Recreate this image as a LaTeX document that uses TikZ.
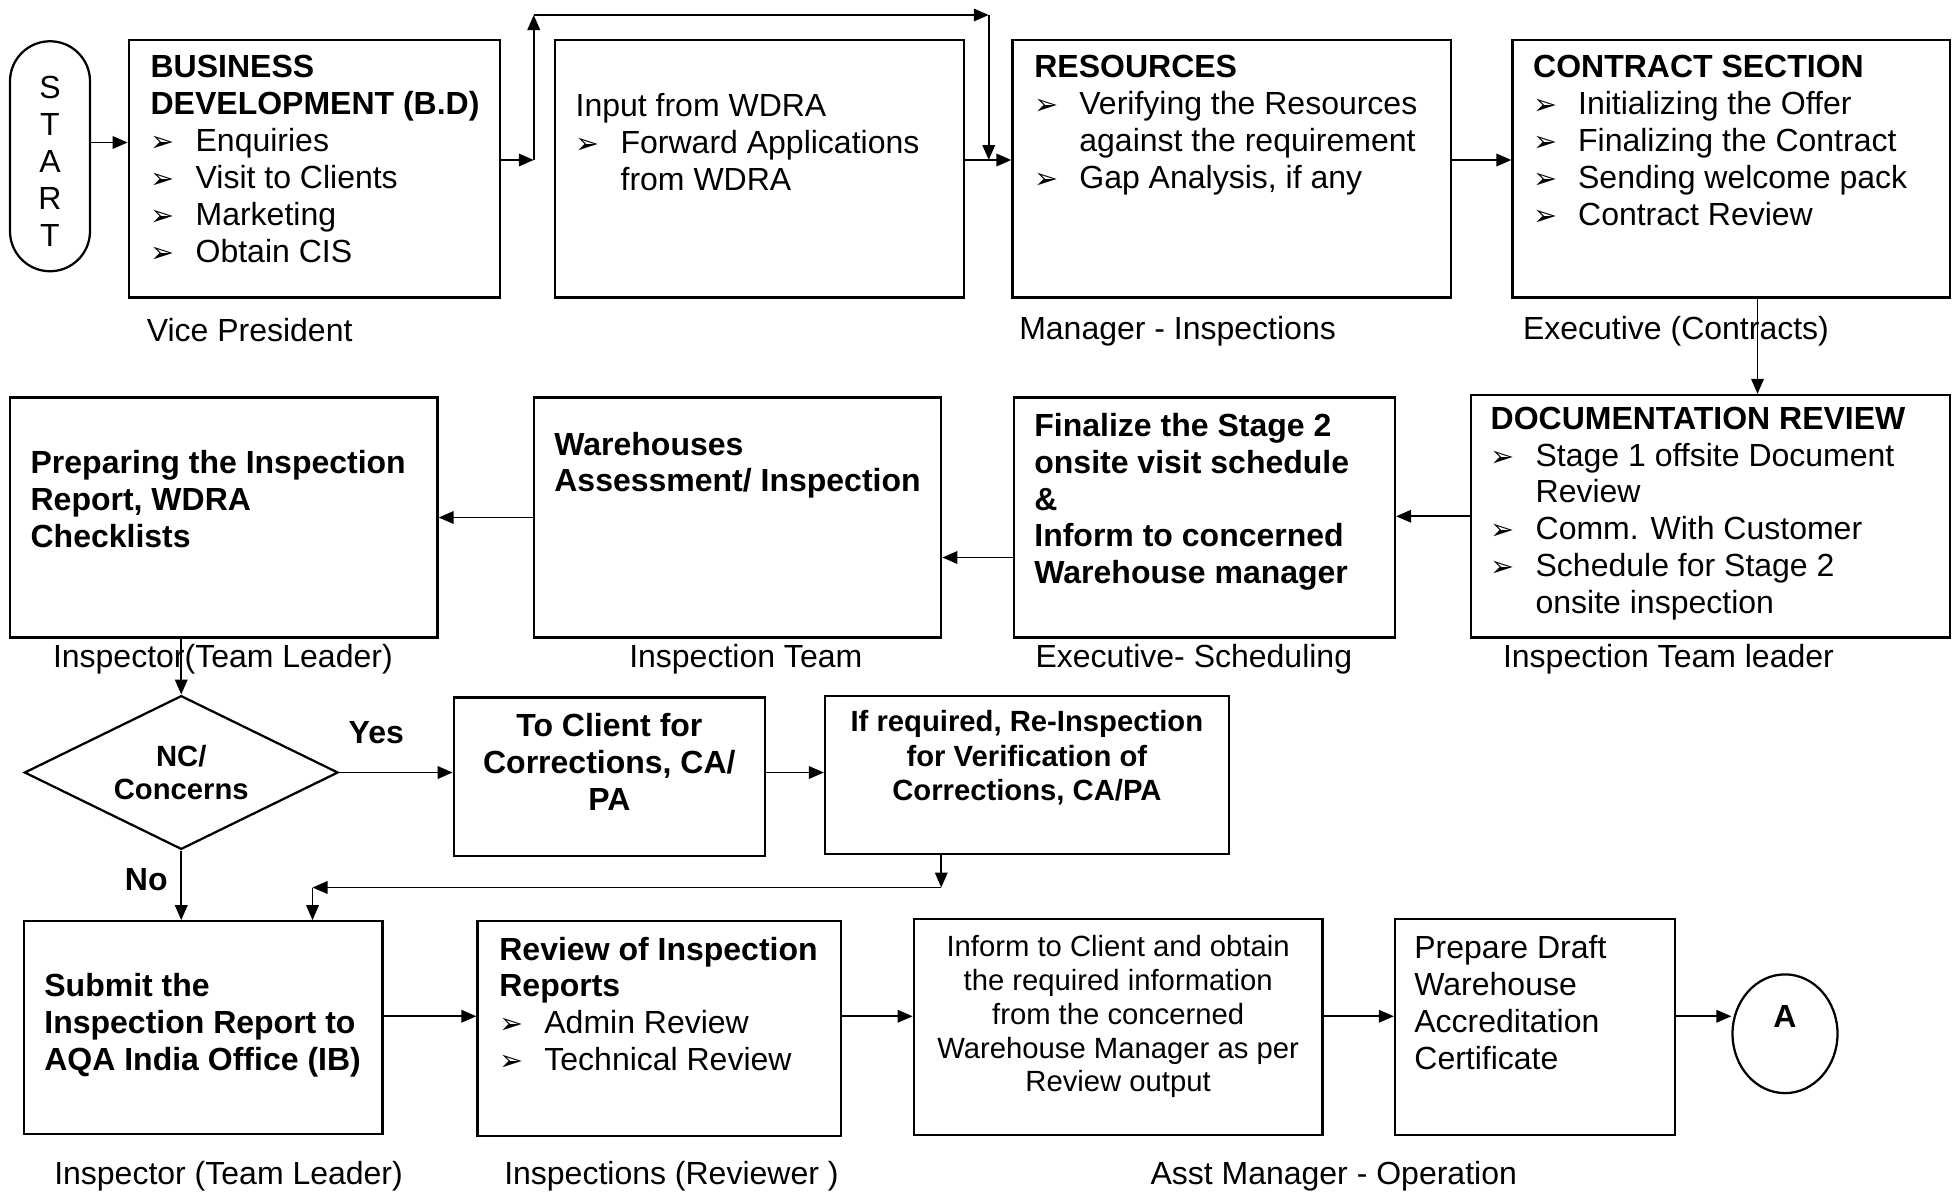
\documentclass[tikz,border=0pt]{standalone}
\usepackage{fontspec}
\setmainfont{Liberation Sans}
\newfontfamily\dingfont{DejaVu Sans}
\usetikzlibrary{shapes.geometric,fit,arrows.meta}
\newcommand{\bul}{\makebox[18pt][l]{{\dingfont\fontsize{11.5}{11.5}\selectfont ➢}}}
\newcommand{\ind}{\hspace*{18pt}}

\begin{document}
\begin{tikzpicture}[x=0.5pt, y=-0.5pt,
	box/.style = {draw, line width=0.9pt, inner sep=0pt},
	txt/.style = {inner sep=0pt, align=left, font=\fontsize{12.8}{14.75}\selectfont},
	btxt/.style = {txt, font=\fontsize{12.8}{14.75}\selectfont\bfseries},
	stxt/.style = {inner sep=0pt, align=center, font=\fontsize{11.7}{13.5}\selectfont},
	role/.style = {txt, anchor=west},
	arr/.style = {-{Triangle[length=6pt,width=5pt]}, line width=0.75pt}]
		\useasboundingbox (0,0) rectangle (1566.4,953.6);
		\node[box, rounded corners=16pt, fit={(8,33) (72,217)}] (1) {};
		\node[box, fit={(103,32) (400,238)}] (2) {};
		\node[box, fit={(444,32) (771,238)}] (3) {};
		\node[box, fit={(810,32) (1161,238)}] (4) {};
		\node[box, fit={(1210,32) (1560,238)}] (5) {};
		\node[box, fit={(1177,316) (1560,510)}] (6) {};
		\node[box, fit={(811,318) (1116,510)}] (7) {};
		\node[box, fit={(427,318) (753,510)}] (8) {};
		\node[box, fit={(8,318) (350,510)}] (9) {};
		\node[box, diamond, aspect=2, minimum width=125.5pt, minimum height=61.5pt, stxt, font=\fontsize{11.7}{13.5}\selectfont\bfseries] (10) at (145,618) {NC/\\Concerns};
		\node[box, fit={(363,558) (612,685)}] (11) {};
		\node[box, fit={(660,557) (983,683)}] (12) {};
		\node[box, fit={(19,737) (306,907)}] (13) {};
		\node[box, fit={(382,737) (673,909)}] (14) {};
		\node[box, fit={(731,735) (1058,908)}] (15) {};
		\node[box, fit={(1116,735) (1340,908)}] (16) {};
		\node[box, ellipse, minimum width=42pt, minimum height=47.5pt] (17) at (1428,827) {};

		\node[txt, align=center] (1t) at ([shift={(0,4)}]1.center) {S\\T\\A\\R\\T};
		\node[txt, anchor=north west] (2t) at ([shift={(18,13)}]2.north west) {\textbf{BUSINESS}\\\textbf{DEVELOPMENT (B.D)}\\\bul Enquiries\\\bul Visit to Clients\\\bul Marketing\\\bul Obtain CIS};
		\node[txt, anchor=north west] (3t) at ([shift={(17,43)}]3.north west) {Input from WDRA\\\bul Forward Applications\\\ind from WDRA};
		\node[txt, anchor=north west] (4t) at ([shift={(18,13)}]4.north west) {\textbf{RESOURCES}\\\bul Verifying the Resources\\\ind against the requirement\\\bul Gap Analysis, if any};
		\node[txt, anchor=north west] (5t) at ([shift={(17,13)}]5.north west) {\textbf{CONTRACT SECTION}\\\bul Initializing the Offer\\\bul Finalizing the Contract\\\bul Sending welcome pack\\\bul Contract Review};
		\node[txt, anchor=north west] (6t) at ([shift={(16,10)}]6.north west) {\textbf{DOCUMENTATION REVIEW}\\\bul Stage 1 offsite Document\\\ind Review\\\bul Comm. With Customer\\\bul Schedule for Stage 2\\\ind onsite inspection};
		\node[btxt, anchor=north west] (7t) at ([shift={(17,13)}]7.north west) {Finalize the Stage 2\\onsite visit schedule\\\&\\Inform to concerned\\Warehouse manager};
		\node[btxt, anchor=north west] (8t) at ([shift={(17,28)}]8.north west) {Warehouses\\Assessment/ Inspection};
		\node[btxt, anchor=north west] (9t) at ([shift={(17,43)}]9.north west) {Preparing the Inspection\\Report, WDRA\\Checklists};
		\node[btxt, align=center, anchor=north] (11t) at ([shift={(0,13)}]11.north) {To Client for\\Corrections, CA/\\PA};
		\node[stxt, font=\fontsize{11.7}{13.75}\selectfont\bfseries, anchor=north] (12t) at ([shift={(0,12)}]12.north) {If required, Re-Inspection\\for Verification of\\Corrections, CA/PA};
		\node[btxt, anchor=north west] (13t) at ([shift={(17,42)}]13.north west) {Submit the\\Inspection Report to\\AQA India Office (IB)};
		\node[txt, anchor=north west] (14t) at ([shift={(18,13)}]14.north west) {\textbf{Review of Inspection}\\\textbf{Reports}\\\bul Admin Review\\\bul Technical Review};
		\node[stxt, anchor=north] (15t) at ([shift={(0,14)}]15.north) {Inform to Client and obtain\\the required information\\from the concerned\\Warehouse Manager as per\\Review output};
		\node[txt, anchor=north west] (16t) at ([shift={(16,14)}]16.north west) {Prepare Draft\\Warehouse\\Accreditation\\Certificate};
		\node[btxt] (17t) at ([shift={(0,-14)}]17.center) {A};

		\node[role] (2r) at (117,264) {Vice President};
		\node[role] (4r) at (815,265) {Manager - Inspections};
		\node[role] (5r) at (1218,265) {Executive (Contracts)};
		\node[role] (9r) at (42,527) {Inspector(Team Leader)};
		\node[role] (8r) at (503,527) {Inspection Team};
		\node[role] (7r) at (828,527) {Executive- Scheduling};
		\node[role] (6r) at (1202,527) {Inspection Team leader};
		\node[role] (13r) at (43,941) {Inspector (Team Leader)};
		\node[role] (14r) at (403,941) {Inspections (Reviewer )};
		\node[role] (15r) at (920,941) {Asst Manager - Operation};
		\node[btxt] (yes) at (301,586) {Yes};
		\node[btxt] (no) at (117,704) {No};

		\coordinate (r1) at (0,128);
		\coordinate (up1) at (427,128);
		\coordinate (up2) at (427,12);
		\coordinate (up3) at (791,12);
		\coordinate (up4) at (791,128);
		\coordinate (dn) at (1406,0);
		\coordinate (back1) at (753,710);
		\coordinate (back2) at (250,710);
		\coordinate (r4) at (0,813);

		\draw[arr] ([shift={(0,-11)}]1.east) -- ([shift={(0,-11)}]1.east -| 2.west);
		\draw[arr] (2.east |- r1) -- (up1);
		\draw[arr] (up1) -- (up2);
		\draw[arr] (up2) -- (up3);
		\draw[arr] (up3) -- (up4);
		\draw[arr] (3.east |- r1) -- (4.west |- r1);
		\draw[arr] (4.east |- r1) -- (5.west |- r1);
		\draw[arr] (5.south -| dn) -- (6.north -| dn);
		\draw[arr] (6.west) -- (6.west -| 7.east);
		\draw[arr] ([shift={(0,32)}]7.west) -- ([shift={(0,32)}]7.west -| 8.east);
		\draw[arr] (8.west) -- (8.west -| 9.east);
		\draw[arr] (10.north |- 9.south) -- (10.north);
		\draw[arr] (10.east) -- (10.east -| 11.west);
		\draw[arr] (10.east -| 11.east) -- (10.east -| 12.west);
		\draw[arr] (12.south -| back1) -- (back1);
		\draw[arr] (back1) -- (back2);
		\draw[arr] (back2) -- (back2 |- 13.north);
		\draw[arr] (10.south) -- (10.south |- 13.north);
		\draw[arr] (13.east |- r4) -- (14.west |- r4);
		\draw[arr] (14.east |- r4) -- (15.west |- r4);
		\draw[arr] (15.east |- r4) -- (16.west |- r4);
		\draw[arr] (16.east |- r4) -- (17.west |- r4);
\end{tikzpicture}
\end{document}
